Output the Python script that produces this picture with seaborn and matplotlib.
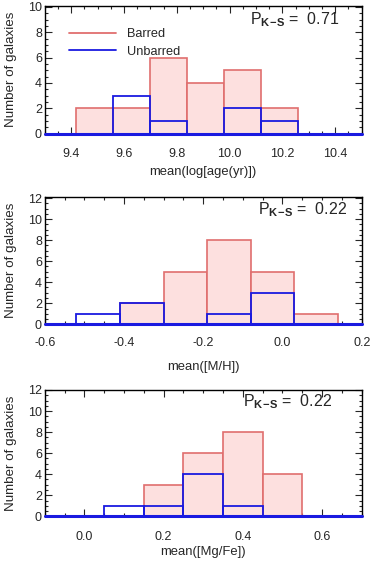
import numpy as np
import pandas as pd
import matplotlib
matplotlib.use("Agg")
import matplotlib.pyplot as plt
from matplotlib.lines import Line2D
from matplotlib.ticker import MultipleLocator
import seaborn as sns

sns.set_style("ticks")
plt.rcParams['font.family'] = ['Liberation Sans', 'DejaVu Sans']
plt.rcParams['mathtext.fontset'] = 'custom'
plt.rcParams['mathtext.rm'] = 'Liberation Sans'
plt.rcParams['mathtext.bf'] = 'Liberation Sans:bold'

# panel 1: mean log age
age_edges = [9.42, 9.56, 9.70, 9.84, 9.98, 10.12, 10.26]
age_barred = [2, 2, 6, 4, 5, 2]
age_unbarred = [0, 3, 1, 0, 2, 1]

# panel 2: mean [M/H]
mh_edges = [-0.52, -0.41, -0.30, -0.19, -0.08, 0.03, 0.14]
mh_barred = [0, 2, 5, 8, 5, 1]
mh_unbarred = [1, 2, 0, 1, 3, 0]

# panel 3: mean [Mg/Fe]
mgfe_edges = [0.05, 0.15, 0.25, 0.35, 0.45, 0.55]
mgfe_barred = [0, 3, 6, 8, 4]
mgfe_unbarred = [1, 1, 4, 1, 0]

pks = ["0.71", "0.22", "0.22"]
xlabels = ["mean(log[age(yr)])", "mean([M/H])", "mean([Mg/Fe])"]

RED_FILL = "#fde0df"
RED_EDGE = "#e06e6e"
BLUE = "#1a1ae0"

W, H = 374, 587
fig = plt.figure(figsize=(W / 100, H / 100), dpi=100)

def px_axes(top, bottom, left=44.7, right=361.7):
    return fig.add_axes([left / W, 1 - bottom / H, (right - left) / W, (bottom - top) / H])

panels = [
    dict(box=(5.7, 133.6), edges=age_edges, b=age_barred, u=age_unbarred,
         xlim=(9.3, 10.5), ylim=(0, 10.1), pad=10.5, lpad=4.5, txt=(0.93, 0.965)),
    dict(box=(197, 324.3), edges=mh_edges, b=mh_barred, u=mh_unbarred,
         xlim=(-0.6, 0.2), ylim=(0, 12.1), pad=9, lpad=9, txt=(0.955, 0.975)),
    dict(box=(390, 516.3), edges=mgfe_edges, b=mgfe_barred, u=mgfe_unbarred,
         xlim=(-0.1, 0.7), ylim=(0, 12.0), pad=10.5, lpad=2, txt=(0.905, 0.985)),
]

for i, p in enumerate(panels):
    ax = px_axes(*p["box"])
    edges = list(p["edges"])
    centers = [(a + b) / 2 for a, b in zip(edges[:-1], edges[1:])]
    df = pd.DataFrame({"x": centers, "barred": p["b"], "unbarred": p["u"]})
    sns.histplot(data=df, x="x", weights="barred", bins=edges, ax=ax,
                 element="bars", fill=True, color=RED_FILL, alpha=1,
                 edgecolor=RED_EDGE, linewidth=1.2)
    sns.histplot(data=df, x="x", weights="unbarred", bins=edges, ax=ax,
                 element="bars", fill=False, color=BLUE, linewidth=1.3)
    ax.axhline(0, color=BLUE, lw=2.2, clip_on=False, zorder=5)
    ax.set_xlim(*p["xlim"])
    ax.set_ylim(*p["ylim"])
    ax.xaxis.set_major_locator(MultipleLocator(0.2))
    ax.xaxis.set_minor_locator(MultipleLocator(0.05))
    ax.xaxis.set_major_formatter(lambda v, pos: "-0.0" if (i == 1 and abs(v) < 1e-9) else f"{v:.1f}")
    ax.yaxis.set_major_locator(MultipleLocator(2))
    ax.yaxis.set_minor_locator(MultipleLocator(0.5))
    ax.tick_params(which="both", direction="in", top=True, right=True,
                   labelsize=9, width=0.8)
    ax.tick_params(which="major", length=5)
    ax.tick_params(which="minor", length=2.5)
    ax.tick_params(axis="x", pad=p["pad"])
    ax.tick_params(axis="y", pad=2)
    for s in ax.spines.values():
        s.set_linewidth(1.0)
        s.set_color("black")
    ax.set_xlabel(xlabels[i], fontsize=9.4, labelpad=p["lpad"])
    ax.set_ylabel("Number of galaxies", fontsize=9.6, labelpad=8)
    ax.text(p["txt"][0], p["txt"][1], r"P$_{\mathbf{K\!-\!S}}$ =  " + pks[i],
            transform=ax.transAxes, ha="right", va="top", fontsize=11.5)
    if i == 0:
        handles = [Line2D([], [], color=RED_EDGE, lw=1.3),
                   Line2D([], [], color=BLUE, lw=1.3)]
        ax.legend(handles, ["Barred", "Unbarred"], loc="upper left",
                  bbox_to_anchor=(0.04, 0.915), frameon=False, fontsize=9.2,
                  handlelength=3.7, handletextpad=0.85, labelspacing=0.45)

fig.savefig("out.png", dpi=100)
